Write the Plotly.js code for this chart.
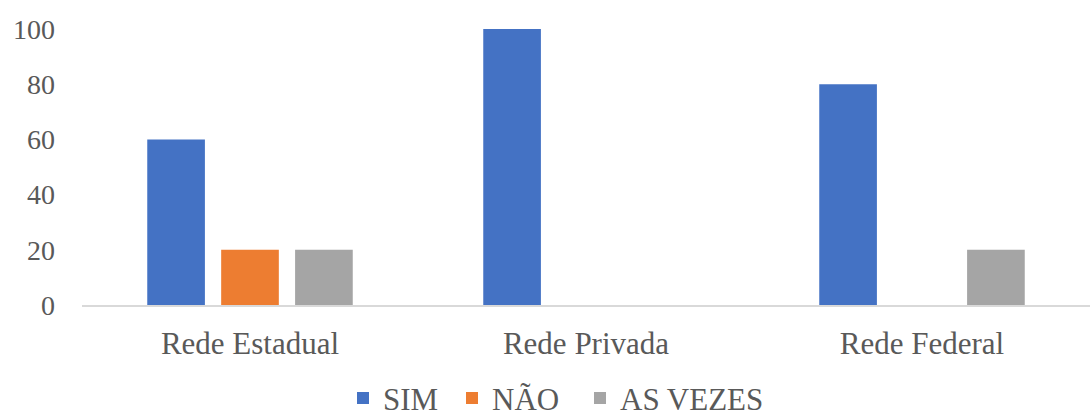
<!DOCTYPE html>
<html>
<head>
<meta charset="utf-8">
<script src="https://cdn.plot.ly/plotly-3.0.1.min.js"></script>
<style>html,body{margin:0;padding:0;background:#fff;}#chart{width:1090px;height:414px;}</style>
</head>
<body>
<div id="chart"></div>
<script>
const categories = ["Rede Estadual", "Rede Privada", "Rede Federal"];
const seriesNames = ["SIM", "NÃO", "AS VEZES"];
const sim = [60, 100, 80];
const nao = [20, 0, 0];
const asVezes = [20, 0, 20];
const yTicks = [0, 20, 40, 60, 80, 100];
const colors = ["#4472C4", "#ED7D31", "#A5A5A5"];

const values = [sim, nao, asVezes];
const legendIds = ["legend", "legend2", "legend3"];
const traces = values.map((v, i) => ({
  type: "bar",
  x: categories,
  y: v,
  name: seriesNames[i],
  legend: legendIds[i],
  marker: {color: colors[i]},
  hoverinfo: "none"
}));

const fam = "'Liberation Serif', 'Times New Roman', serif";
const yfont = {family: fam, size: 28, color: "#595959"};
const xfont = {family: fam, size: 31, color: "#595959"};
const lfont = {family: fam, size: 31, color: "#595959"};
const legendLeft = [343, 452, 580];
const mkLegend = (px) => ({orientation: "h", x: px / 1090, xanchor: "left", xref: "container",
  y: -0.338, yanchor: "middle", yref: "paper", font: lfont, itemwidth: 30, bgcolor: "rgba(0,0,0,0)"});
const layout = {
  width: 1090, height: 414,
  margin: {l: 82, r: 0, t: 29, b: 109, autoexpand: false},
  paper_bgcolor: "#fff", plot_bgcolor: "#fff",
  barmode: "group", bargap: 0.34, bargroupgap: 0.22,
  font: {family: fam, size: 28, color: "#595959"},
  showlegend: true,
  legend: mkLegend(legendLeft[0]),
  legend2: mkLegend(legendLeft[1]),
  legend3: mkLegend(legendLeft[2]),
  xaxis: {showgrid: false, showline: true, linecolor: "#D9D9D9", linewidth: 2,
          ticks: "", tickfont: xfont, ticklabelstandoff: 10, zeroline: false, automargin: false},
  yaxis: {range: [0, 100], tickvals: yTicks, showgrid: false, zeroline: false, automargin: false,
          showline: false, ticks: "", tickfont: yfont, ticklabelstandoff: 26}
};
Plotly.newPlot("chart", traces, layout, {displayModeBar: false, staticPlot: true}).then(() => {
  document.querySelectorAll('.legendtext').forEach(t => t.style.fontFamily = fam);
});
</script>
</body>
</html>
